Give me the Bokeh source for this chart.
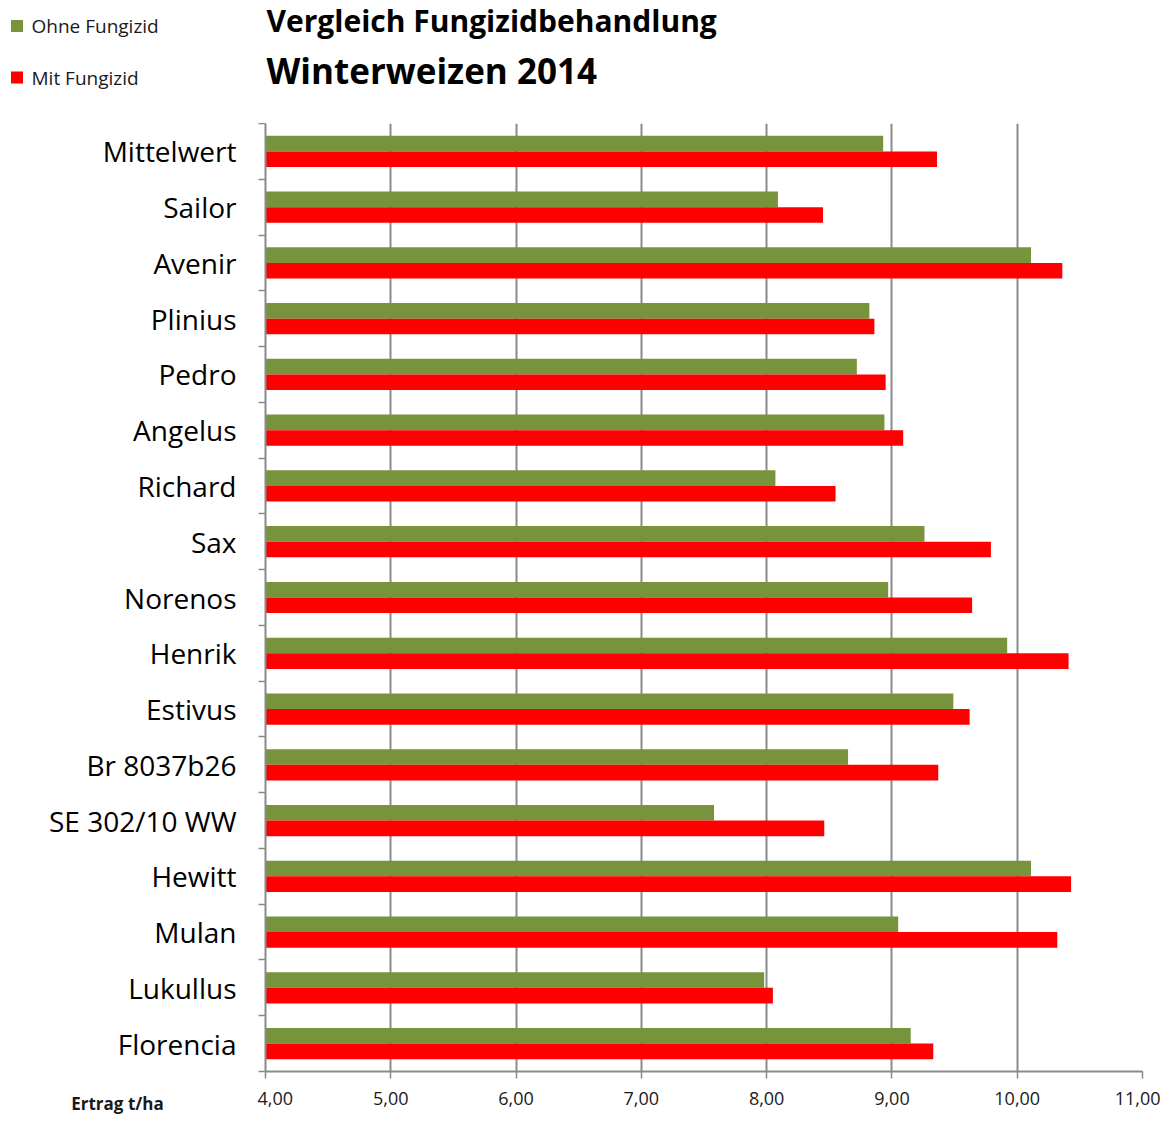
from bokeh.plotting import figure
from bokeh.models import Range1d, FixedTicker, ColumnDataSource
from bokeh.layouts import column, row
from bokeh.core.properties import value
from bokeh.embed import file_html
from bokeh.resources import INLINE

# ---------------- data ----------------
categories = ["Mittelwert", "Sailor", "Avenir", "Plinius", "Pedro", "Angelus", "Richard",
              "Sax", "Norenos", "Henrik", "Estivus", "Br 8037b26", "SE 302/10 WW",
              "Hewitt", "Mulan", "Lukullus", "Florencia"]
ohne_fungizid = [8.93, 8.09, 10.11, 8.82, 8.72, 8.94, 8.07, 9.26, 8.97, 9.92, 9.49,
                 8.65, 7.58, 10.11, 9.05, 7.98, 9.15]
mit_fungizid = [9.36, 8.45, 10.36, 8.86, 8.95, 9.09, 8.55, 9.79, 9.64, 10.41, 9.62,
                9.37, 8.46, 10.43, 10.32, 8.05, 9.33]
series_names = ["Ohne Fungizid", "Mit Fungizid"]
x_ticks = [4, 5, 6, 7, 8, 9, 10, 11]
x_tick_labels = ["4,00", "5,00", "6,00", "7,00", "8,00", "9,00", "10,00", "11,00"]
title_lines = ["Vergleich Fungizidbehandlung", "Winterweizen 2014"]
x_axis_title = "Ertrag t/ha"

# ---------------- styling / layout ----------------
GREEN = "#77933C"
RED = "#FF0000"
GRID = "#8a8a8a"
FONT = "Open Sans"

TOTAL_W, TOTAL_H = 1160, 1117
HEADER_H = 123                 # header band above the plot frame
LEFT_W = 257                   # label column left of the axis tick marks
TICK_W = 8                     # room for the category tick marks
FRAME_W = 877
FRAME_H = 948
BODY_H = TOTAL_H - HEADER_H
MAIN_W = TOTAL_W - LEFT_W
BOTTOM = BODY_H - FRAME_H
STANDOFF = 13
n = len(categories)

def clean(fig):
    fig.outline_line_color = None
    fig.background_fill_color = "white"
    fig.border_fill_color = "white"
    return fig

# ---- header: legend + title ----
header = clean(figure(width=TOTAL_W, height=HEADER_H, x_range=Range1d(0, TOTAL_W),
                      y_range=Range1d(HEADER_H, 0), output_backend="svg",
                      toolbar_location=None, min_border=0, x_axis_location=None,
                      y_axis_location=None))
header.grid.visible = False
leg_src = ColumnDataSource(dict(x=[16.5, 16.5], y=[25.5, 77], tx=[31, 31],
                                name=series_names, color=[GREEN, RED]))
header.rect(x="x", y="y", width=12, height=12, source=leg_src,
            fill_color="color", line_color=None)
header.text(x="tx", y="y", text="name", source=leg_src, text_font=value(FONT),
            text_font_size="19px", text_baseline="middle", text_color="#1a1a1a")
header.text(x=[266], y=[20], text=[title_lines[0]], text_font=value(FONT),
            text_font_size="30px", text_font_style="bold", text_baseline="middle",
            text_color="black")
header.text(x=[266], y=[70], text=[title_lines[1]], text_font=value(FONT),
            text_font_size="35px", text_font_style="bold", text_baseline="middle",
            text_color="black")

# ---- main plot ----
ycenter = [n - i - 0.5 for i in range(n)]
src = ColumnDataSource(dict(cat=categories, y=ycenter,
                            y_ohne=[y + 0.14 for y in ycenter],
                            y_mit=[y - 0.14 for y in ycenter],
                            ohne=ohne_fungizid, mit=mit_fungizid))

main = clean(figure(width=MAIN_W, height=BODY_H, x_range=Range1d(x_ticks[0], x_ticks[-1]),
                    y_range=Range1d(0, n), output_backend="svg", toolbar_location=None,
                    min_border_left=TICK_W, min_border_right=MAIN_W - TICK_W - FRAME_W,
                    min_border_top=0, min_border_bottom=BOTTOM))

main.hbar(y="y_ohne", left=x_ticks[0], right="ohne", height=0.28, source=src,
          fill_color=GREEN, line_color=None)
main.hbar(y="y_mit", left=x_ticks[0], right="mit", height=0.28, source=src,
          fill_color=RED, line_color=None)

main.xaxis.ticker = FixedTicker(ticks=x_ticks)
main.xaxis.major_label_overrides = {t: l for t, l in zip(x_ticks, x_tick_labels)}
main.xaxis.axis_line_color = GRID
main.xaxis.axis_line_width = 2
main.xaxis.major_tick_line_color = GRID
main.xaxis.major_tick_line_width = 1.5
main.xaxis.major_tick_out = 7
main.xaxis.major_tick_in = 0
main.xaxis.minor_tick_line_color = None
main.xaxis.major_label_standoff = STANDOFF
main.xaxis.major_label_text_font = FONT
main.xaxis.major_label_text_font_size = "18px"
main.xaxis.major_label_text_color = "#1a1a1a"

main.yaxis.ticker = FixedTicker(ticks=list(range(n + 1)))
main.yaxis.major_label_overrides = {i: "" for i in range(n + 1)}
main.yaxis.major_label_text_font_size = "0px"
main.yaxis.major_label_standoff = 0
main.yaxis.axis_line_color = GRID
main.yaxis.axis_line_width = 2
main.yaxis.major_tick_line_color = GRID
main.yaxis.major_tick_line_width = 1.5
main.yaxis.major_tick_out = 7
main.yaxis.major_tick_in = 0
main.yaxis.minor_tick_line_color = None

main.xgrid.ticker = FixedTicker(ticks=x_ticks[1:])
main.xgrid.grid_line_color = GRID
main.xgrid.grid_line_width = 2
main.ygrid.grid_line_color = None

# ---- label column: category names (same y scale) + axis title on its own bottom axis ----
left = clean(figure(width=LEFT_W, height=BODY_H, x_range=Range1d(0, LEFT_W),
                    y_range=Range1d(0, n), output_backend="svg", toolbar_location=None,
                    min_border_left=0, min_border_right=0, min_border_top=0,
                    min_border_bottom=BOTTOM, y_axis_location=None))
left.grid.visible = False
left.text(x=236, y="y", text="cat", source=src, text_font=value(FONT),
          text_font_size="28px", text_align="right", text_baseline="middle",
          text_color="black")
title_pos = 117
left.xaxis.ticker = FixedTicker(ticks=[title_pos])
left.xaxis.major_label_overrides = {title_pos: x_axis_title}
left.xaxis.axis_line_color = None
left.xaxis.major_tick_line_color = None
left.xaxis.minor_tick_line_color = None
left.xaxis.major_tick_out = 7
left.xaxis.major_tick_in = 0
left.xaxis.major_label_standoff = STANDOFF
left.xaxis.major_label_text_font = FONT
left.xaxis.major_label_text_font_size = "17px"
left.xaxis.major_label_text_font_style = "bold"
left.xaxis.major_label_text_color = "#1a1a1a"

layout = column(header, row(left, main, spacing=0), spacing=0)
open("out.html", "w").write(file_html(layout, INLINE))
